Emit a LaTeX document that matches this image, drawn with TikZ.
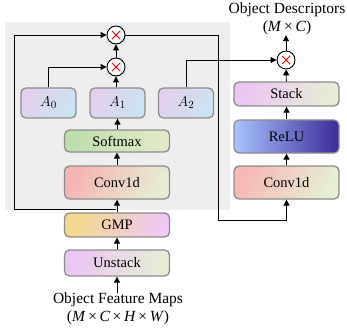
\documentclass[tikz,border=0pt]{standalone}
\usepackage{fontspec}
\setmainfont{Liberation Serif}
\usetikzlibrary{arrows.meta}
\definecolor{bordergray}{HTML}{8C8C8C}
\definecolor{bggray}{HTML}{EEEEEE}
\definecolor{aleft}{RGB}{226,208,236}
\definecolor{aright}{RGB}{203,228,241}
\tikzset{
  blk/.style={draw=bordergray, line width=1.3pt, rounded corners=5pt, minimum width=105pt, inner sep=0pt, font=\fontsize{14.5}{16}\selectfont},
  abox/.style={blk, minimum width=55pt, minimum height=30pt, left color=aleft, right color=aright, shading angle=60, font=\fontsize{15.5}{17}\selectfont},
  mul/.style={circle, draw=black, line width=0.9pt, fill=white, minimum size=18pt, inner sep=0pt,
    path picture={\draw[red, line width=0.8pt] ([shift={(-4pt,-4pt)}]path picture bounding box.center) -- ([shift={(4pt,4pt)}]path picture bounding box.center)
      ([shift={(-4pt,4pt)}]path picture bounding box.center) -- ([shift={(4pt,-4pt)}]path picture bounding box.center);}},
  arr/.style={line width=0.9pt, -{Triangle[width=6pt,length=6pt]}},
  lbl/.style={font=\fontsize{15.5}{17}\selectfont, inner sep=0pt}
}
\begin{document}
\begin{tikzpicture}[x=1pt,y=-1pt]
\useasboundingbox (0,0) rectangle (347,331);
\fill[bggray] (5,22) rectangle (230,210);
% left column
\node[blk, minimum height=26pt, left color={rgb,255:red,235;green,198;blue,242}, right color={rgb,255:red,230;green,236;blue,214}, shading angle=70] (unstack) at (117,263) {Unstack};
\node[blk, minimum height=24pt, left color={rgb,255:red,242;green,217;blue,138}, right color={rgb,255:red,239;green,200;blue,243}, shading angle=70] (gmp) at (117,225) {GMP};
\node[blk, minimum height=33pt, left color={rgb,255:red,246;green,181;blue,179}, right color={rgb,255:red,230;green,236;blue,210}, shading angle=60] (conva) at (117,182.5) {Conv1d};
\node[blk, minimum height=22pt, left color={rgb,255:red,189;green,220;blue,170}, right color={rgb,255:red,227;green,235;blue,201}] (soft) at (117,141) {Softmax};
\node[abox] (a0) at (48.5,103) {$A_0$};
\node[abox] (a1) at (117.5,103) {$A_1$};
\node[abox] (a2) at (186,103) {$A_2$};
\node[mul] (m2) at (116,67) {};
\node[mul] (m1) at (116,35) {};
% right column
\node[blk, minimum height=33pt, left color={rgb,255:red,246;green,185;blue,182}, right color={rgb,255:red,230;green,238;blue,212}, shading angle=60] (convb) at (286.5,182.5) {Conv1d};
\node[blk, minimum height=33pt, left color={rgb,255:red,169;green,195;blue,255}, right color={rgb,255:red,59;green,42;blue,152}] (relu) at (286.5,136.5) {ReLU};
\node[blk, minimum height=24pt, left color={rgb,255:red,235;green,198;blue,242}, right color={rgb,255:red,230;green,236;blue,214}, shading angle=70] (stack) at (286.5,94) {Stack};
\node[mul] (m3) at (286,60) {};
% labels
\node[lbl, align=center] (feat) at (118,309) {Object Feature Maps\\[1pt](\textit{M}\,×\,\textit{C}\,×\,\textit{H}\,×\,\textit{W})};
\node[lbl, align=center] (desc) at (287,19) {Object Descriptors\\[1pt](\textit{M}\,×\,\textit{C})};
% connectors
\coordinate (s1) at (116,209);
\coordinate (lc) at (14,209);
\coordinate (rc) at (218,220);
\draw[arr] (feat.north -| unstack) -- (unstack.south);
\draw[arr] (unstack) -- (gmp);
\draw[arr] (gmp) -- (conva);
\draw[arr] (conva) -- (soft);
\draw[arr] (soft.north -| a1) -- (a1.south);
\draw[arr] (a1.north -| m2) -- (m2.south);
\draw[arr] (m2) -- (m1);
\draw[arr] (a0.north) |- (m2.west);
\draw[arr] (s1) -- (lc) |- (m1.west);
\draw[arr] (m1.east) -| (rc) -| (convb.south);
\draw[arr] (a2.north) |- (m3.west);
\draw[arr] (convb) -- (relu);
\draw[arr] (relu) -- (stack);
\draw[arr] (stack) -- (m3);
\draw[arr] (m3.north) -- (m3.north |- desc.south);
\end{tikzpicture}
\end{document}
